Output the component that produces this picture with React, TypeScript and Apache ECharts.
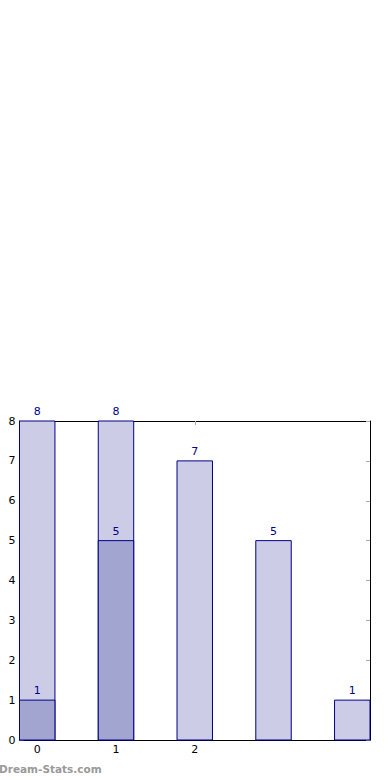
import React, { useEffect, useRef } from "react";
import * as echarts from "echarts";

const positions = [0, 1, 2, 3, 4];
const totalValues = [8, 8, 7, 5, 1];
const partPositions = [0, 1];
const partValues = [1, 5];
const xTickLabels = [0, 1, 2];
const yTicks = [0, 1, 2, 3, 4, 5, 6, 7, 8];

const BAR_W = 0.45;
const EDGE = "#000088";
const LABEL = "#00008b";
const FONT = "DejaVu Sans";

function makeRender(fill: string) {
  return (params: any, api: any) => {
    const x = api.value(0);
    const y = api.value(1);
    const p0 = api.coord([x - BAR_W / 2, 0]);
    const p1 = api.coord([x + BAR_W / 2, y]);
    const cx = api.coord([x, y]);
    return {
      type: "group",
      children: [
        {
          type: "rect",
          shape: { x: p0[0], y: p1[1], width: p1[0] - p0[0], height: p0[1] - p1[1] },
          style: { fill, stroke: EDGE, lineWidth: 1 },
        },
        {
          type: "text",
          x: cx[0],
          y: cx[1] - 4,
          style: {
            text: String(y),
            fill: LABEL,
            font: `11px "${FONT}"`,
            align: "center",
            verticalAlign: "bottom",
          },
        },
      ],
    };
  };
}

export default function App() {
  const ref = useRef<HTMLDivElement>(null);
  useEffect(() => {
    if (!ref.current) return;
    const chart = echarts.init(ref.current, null, { renderer: "svg" });
    const tickStyle = { color: "#aaaaaa", width: 1 };
    const xBase = {
      type: "value" as const,
      min: -BAR_W / 2,
      max: positions[positions.length - 1] + BAR_W / 2,
      splitLine: { show: false },
      axisLine: { show: true, onZero: false, lineStyle: { color: "#000", width: 1 } },
      axisTick: { show: true, inside: true, length: 4, customValues: xTickLabels, lineStyle: tickStyle },
    };
    const yBase = {
      type: "value" as const,
      min: yTicks[0],
      max: yTicks[yTicks.length - 1],
      interval: 1,
      splitLine: { show: false },
      axisLine: { show: true, onZero: false, lineStyle: { color: "#000", width: 1 } },
      axisTick: { show: true, inside: true, length: 4, lineStyle: tickStyle },
    };
    chart.setOption({
      animation: false,
      grid: { left: 19.5, top: 421, width: 350.5, height: 319, containLabel: false },
      xAxis: [
        {
          ...xBase,
          position: "bottom",
          axisLabel: { show: true, customValues: xTickLabels, color: "#000", fontFamily: FONT, fontSize: 11, margin: 4 },
        },
        { ...xBase, position: "top", axisLabel: { show: false } },
      ],
      yAxis: [
        {
          ...yBase,
          position: "left",
          axisLabel: { show: true, color: "#000", fontFamily: FONT, fontSize: 11, margin: 4 },
        },
        { ...yBase, position: "right", axisLabel: { show: false } },
      ],
      graphic: [
        {
          type: "text",
          left: -1,
          top: 763,
          style: { text: "Dream-Stats.com", fill: "#999999", font: `bold 10.5px "${FONT}"` },
        },
      ],
      series: [
        {
          type: "custom",
          renderItem: makeRender("#ccccE6"),
          data: positions.map((p, i) => [p, totalValues[i]]),
          clip: false,
        },
        {
          type: "custom",
          renderItem: makeRender("#a3a5d1"),
          data: partPositions.map((p, i) => [p, partValues[i]]),
          clip: false,
        },
      ],
    });
    return () => chart.dispose();
  }, []);
  return (
    <div
      ref={ref}
      style={{ position: "absolute", left: 0, top: 0, width: 390, height: 780 }}
    />
  );
}
